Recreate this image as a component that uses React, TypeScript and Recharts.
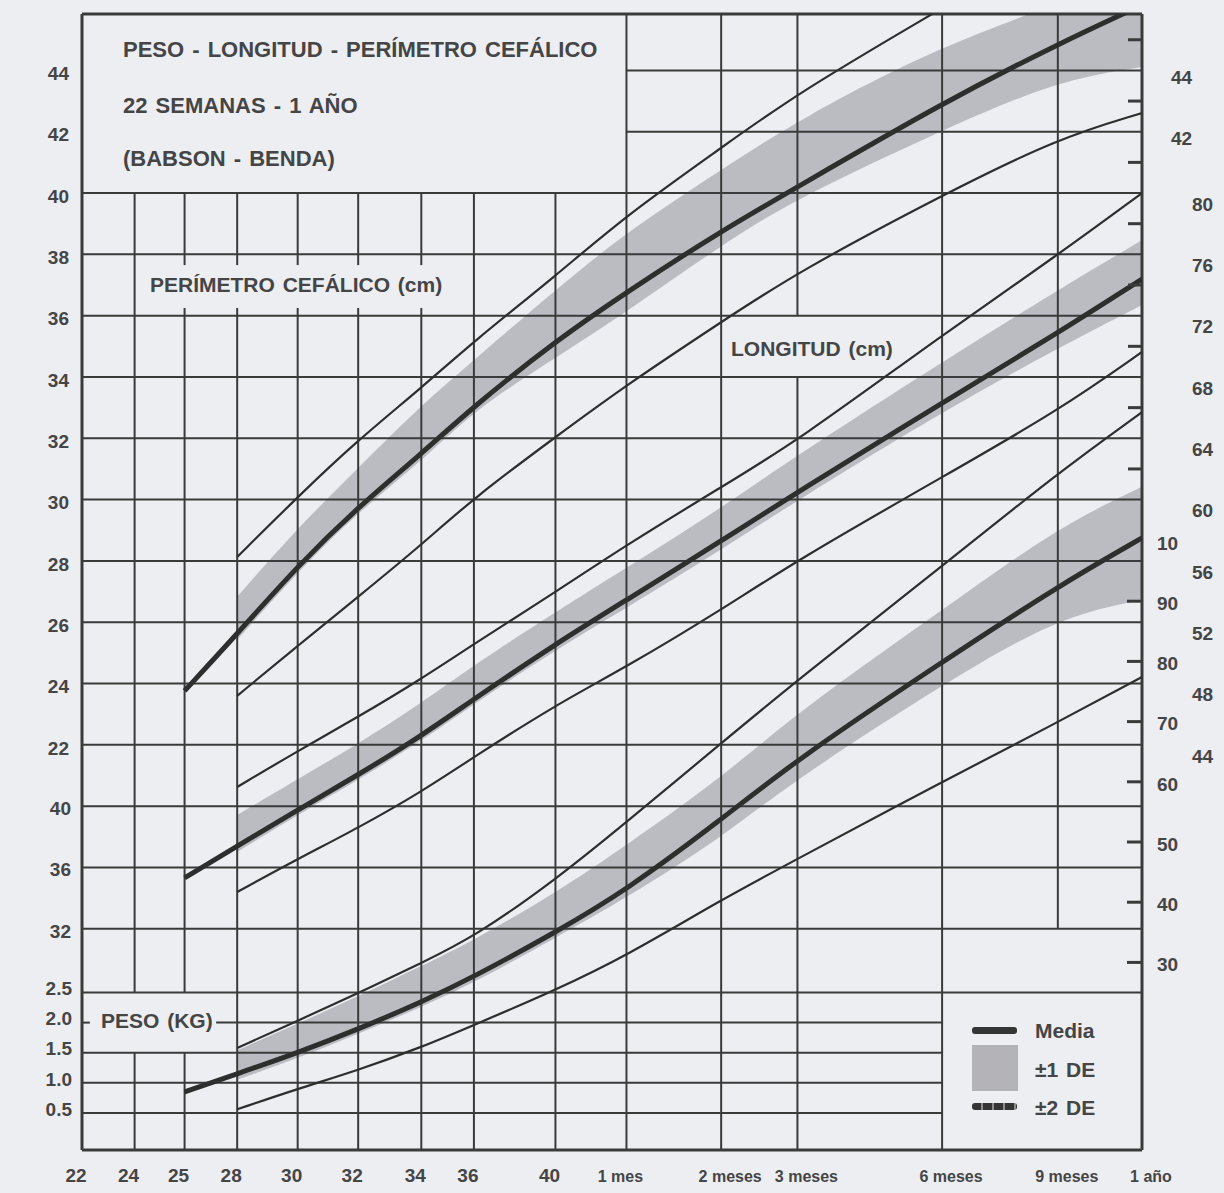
import React from "react";
import {
  ComposedChart,
  Line,
  Area,
  XAxis,
  YAxis,
  ReferenceLine,
} from "recharts";

// printed age axis: label and its place on the (non-uniform) printed scale
const ageLabels = ["22", "24", "25", "28", "30", "32", "34", "36", "40", "1 mes", "2 meses", "3 meses", "6 meses", "9 meses", "1 año"];
const ageAxis = [22, 24, 25.9, 27.9, 30.2, 32.5, 34.9, 36.9, 40, 42.7, 46.3, 49.2, 54.7, 59.1, 62.3];

// perímetro cefálico (cm), one value per printed age
const headMean = [null, null, 23.76, 25.62, 27.84, 29.76, 31.49, 33.05, 35.17, 36.77, 38.76, 40.2, 42.93, 44.86, 46.13];
const headPlus2 = [null, null, null, 28.13, 30.09, 31.95, 33.64, 35.17, 37.29, 39.28, 41.47, 43.26, 46.03, null, null];
const headMinus2 = [null, null, null, 23.6, 25.23, 26.83, 28.52, 30.06, 32.04, 33.74, 35.79, 37.42, 39.93, 41.79, 42.61];
const headBandLow = [null, null, null, 25.43, 27.64, 29.6, 31.23, 32.92, 34.62, 36.12, 38.3, 39.84, 42.05, 43.68, 44.11];
const headBandHigh = [null, null, null, 26.83, 29.08, 31.03, 33.09, 34.55, 36.84, 38.73, 40.75, 42.38, 44.83, 46.13, 47.6];

// longitud (cm)
const lengthMean = [null, null, 35.32, 37.4, 39.75, 42.04, 44.58, 46.99, 50.58, 53.45, 57.3, 60.5, 66.3, 70.87, 74.39];
const lengthPlus2 = [null, null, null, 41.25, 43.6, 45.82, 48.3, 50.58, 53.97, 57.04, 60.82, 63.82, 70.74, 75.96, 80.0];
const lengthMinus2 = [null, null, null, 34.4, 36.56, 38.58, 40.93, 43.21, 46.6, 49.08, 52.8, 56.06, 61.47, 65.78, 69.63];
const lengthBandLow = [null, null, null, 37.01, 39.43, 41.71, 44.25, 46.67, 50.19, 52.93, 56.71, 59.97, 65.71, 69.89, 72.69];
const lengthBandHigh = [null, null, null, 39.43, 41.77, 44.06, 46.73, 49.21, 52.67, 55.54, 59.45, 62.91, 68.98, 73.67, 76.93];

// peso (kg)
const weightMean = [null, null, 0.85, 1.15, 1.5, 1.89, 2.34, 2.76, 3.5, 4.2, 5.37, 6.38, 7.99, 9.25, 10.05];
const weightPlus2 = [null, null, null, 1.58, 2.03, 2.49, 2.99, 3.42, 4.37, 5.33, 6.64, 7.69, 9.58, 11.13, 12.14];
const weightMinus2 = [null, null, null, 0.56, 0.9, 1.21, 1.59, 1.96, 2.54, 3.11, 4.04, 4.72, 6.0, 6.99, 7.74];
const weightBandLow = [null, null, null, 1.05, 1.41, 1.81, 2.26, 2.66, 3.41, 4.07, 5.07, 6.06, 7.61, 8.74, 9.02];
const weightBandHigh = [null, null, null, 1.54, 1.98, 2.44, 2.94, 3.37, 4.15, 4.95, 6.06, 7.16, 8.85, 10.23, 10.9];

// tick labels
const headTicksLeft = [22, 24, 26, 28, 30, 32, 34, 36, 38, 40, 42, 44];
const lengthTicksLeft = [32, 36, 40];
const kgTicksLeft = [0.5, 1.0, 1.5, 2.0, 2.5];
const headTicksRight = [42, 44];
const lengthTicksRight = [44, 48, 52, 56, 60, 64, 68, 72, 76, 80];
const kgTicksRight = [3, 4, 5, 6, 7, 8, 9, 10];
const headMarks = [41, 43, 45];
const lengthMarks = [62, 66, 70, 74, 78];
const kgMarks = [3, 4, 5, 6, 7, 8, 9];

// the three printed scales share one sheet: head cm = length cm / 2
const CM_DOMAIN: [number, number] = [17.57, 91.68];
const HEAD_DOMAIN: [number, number] = [CM_DOMAIN[0] / 2, CM_DOMAIN[1] / 2];
const KG_DOMAIN: [number, number] = [-0.116, 18.754];
const kgToCm = (w: number) =>
  CM_DOMAIN[0] + ((w - KG_DOMAIN[0]) * (CM_DOMAIN[1] - CM_DOMAIN[0])) / (KG_DOMAIN[1] - KG_DOMAIN[0]);

const FONT = '"Liberation Sans", Arial, Helvetica, sans-serif';
const GRID = "#3a3a3a";
const INK = "#2e2e2e";
const BAND = "#b3b3b8";
const TEXT = "#454545";

const rows = ageAxis.map((age, i) => ({
  age,
  headMean: headMean[i],
  headPlus2: headPlus2[i],
  headMinus2: headMinus2[i],
  headBand: headBandLow[i] == null ? null : [headBandLow[i], headBandHigh[i]],
  lengthMean: lengthMean[i],
  lengthPlus2: lengthPlus2[i],
  lengthMinus2: lengthMinus2[i],
  lengthBand: lengthBandLow[i] == null ? null : [lengthBandLow[i], lengthBandHigh[i]],
  weightMean: weightMean[i],
  weightPlus2: weightPlus2[i],
  weightMinus2: weightMinus2[i],
  weightBand: weightBandLow[i] == null ? null : [weightBandLow[i], weightBandHigh[i]],
}));

// sheet ruling (cm units of the length scale); breaks leave room for printed labels
const TOP = CM_DOMAIN[1];
const BOT = CM_DOMAIN[0];
const KG25 = kgToCm(2.5);
const KG15 = kgToCm(1.5);
const verticalRules: [number, number, number][] = [
  [1, 80, KG25], [1, KG15, BOT],
  [2, 80, 75.3], [2, 72.5, KG25], [2, KG15, BOT],
  [3, 80, 75.3], [3, 72.5, BOT],
  [4, 80, 75.3], [4, 72.5, BOT],
  [5, 80, 75.3], [5, 72.5, BOT],
  [6, 80, 75.3], [6, 72.5, BOT],
  [7, 80, BOT], [8, 80, BOT],
  [9, TOP, BOT], [10, TOP, BOT],
  [11, TOP, 72], [11, 68, BOT],
  [12, TOP, BOT], [13, TOP, 32],
];
const cmRules: [number, number, number][] = [
  [88, 9, 14], [84, 9, 14],
  [80, 0, 14], [76, 0, 14], [72, 0, 14], [68, 0, 14], [64, 0, 14], [60, 0, 14],
  [56, 0, 14], [52, 0, 14], [48, 0, 14], [44, 0, 14], [40, 0, 14], [36, 0, 14], [32, 0, 14],
];
const kgRules: [number, number, number][] = [
  [2.5, 22, 62.3], [2.0, 22, 22.3], [2.0, 27.1, 54.7], [1.5, 22, 54.7], [1.0, 22, 54.7], [0.5, 22, 54.7],
];

const TICK = { fill: TEXT, fontSize: 19, fontWeight: 700, fontFamily: FONT };

const AgeTick = (props: any) => {
  const { x, y, payload } = props;
  const i = ageAxis.indexOf(payload.value);
  const month = i >= 9;
  const shift = !month ? -6 : i === 9 ? -6 : 9;
  return (
    <text
      x={x + shift}
      y={y + 32}
      textAnchor="middle"
      fontSize={month ? 16 : 19}
      fontWeight={700}
      fill={TEXT}
      fontFamily={FONT}
    >
      {ageLabels[i]}
    </text>
  );
};

const Note = ({ left, top, size = 21, children }: any) => (
  <div
    style={{
      position: "absolute",
      left,
      top,
      fontSize: size,
      lineHeight: `${size}px`,
      fontWeight: 700,
      color: TEXT,
      fontFamily: FONT,
      whiteSpace: "nowrap",
      wordSpacing: 2,
    }}
  >
    {children}
  </div>
);

const labelAxis = {
  width: 1,
  allowDataOverflow: true,
  interval: 0,
  axisLine: false,
  tickLine: false,
  tickSize: 0,
} as const;

const markAxis = {
  orientation: "right",
  mirror: true,
  width: 1,
  allowDataOverflow: true,
  interval: 0,
  axisLine: false,
  tickSize: 14,
  tickLine: { stroke: GRID, strokeWidth: 3 },
  tickFormatter: () => "",
} as const;

// the printed curves are drawn smooth; a B-spline through the read values evens out reading noise
const CURVE = "basis" as const;

const App: React.FC = () => {
  return (
    <div style={{ position: "absolute", left: 0, top: 0, width: 1224, height: 1193, background: "#eceef2" }}>
      <ComposedChart width={1224} height={1193} data={rows} margin={{ top: 14, right: 79, bottom: 3, left: 79 }}>
        <XAxis
          dataKey="age"
          type="number"
          domain={[22, 62.3]}
          ticks={ageAxis}
          interval={0}
          allowDataOverflow
          axisLine={false}
          tickLine={false}
          tickSize={0}
          tickMargin={0}
          height={40}
          tick={AgeTick}
        />
        <YAxis yAxisId="head" orientation="left" domain={HEAD_DOMAIN} ticks={headTicksLeft} tickMargin={12} tick={{ ...TICK, dy: 3 }} {...labelAxis} />
        <YAxis yAxisId="cm" orientation="left" domain={CM_DOMAIN} ticks={lengthTicksLeft} tickMargin={11} tick={{ ...TICK, dy: 2 }} {...labelAxis} />
        <YAxis yAxisId="kg" orientation="left" domain={KG_DOMAIN} ticks={kgTicksLeft} tickMargin={8} tickFormatter={(v: number) => v.toFixed(1)} tick={{ ...TICK, dy: -4 }} {...labelAxis} />
        <YAxis yAxisId="headR" orientation="right" domain={HEAD_DOMAIN} ticks={headTicksRight} tickMargin={28} tick={{ ...TICK, dy: 7 }} {...labelAxis} />
        <YAxis yAxisId="cmR" orientation="right" domain={CM_DOMAIN} ticks={lengthTicksRight} tickMargin={50} tick={{ ...TICK, dy: 11 }} {...labelAxis} />
        <YAxis yAxisId="kgR" orientation="right" domain={KG_DOMAIN} ticks={kgTicksRight} tickMargin={13} tickFormatter={(v: number) => (v === 10 ? "10" : String(v * 10))} tick={{ ...TICK, dy: 2 }} {...labelAxis} />
        <YAxis yAxisId="cmMarks" domain={CM_DOMAIN} ticks={[...lengthMarks, ...headMarks.map((h) => h * 2)]} {...markAxis} />
        <YAxis yAxisId="kgMarks" domain={KG_DOMAIN} ticks={kgMarks} {...markAxis} />

        {verticalRules.map(([col, from, to], k) => (
          <ReferenceLine key={`v${k}`} yAxisId="cm" ifOverflow="visible" stroke={GRID} strokeWidth={2} segment={[{ x: ageAxis[col], y: from }, { x: ageAxis[col], y: to }]} />
        ))}
        {cmRules.map(([y, c0, c1], k) => (
          <ReferenceLine key={`h${k}`} yAxisId="cm" ifOverflow="visible" stroke={GRID} strokeWidth={2} segment={[{ x: ageAxis[c0], y }, { x: ageAxis[c1], y }]} />
        ))}
        {kgRules.map(([y, x0, x1], k) => (
          <ReferenceLine key={`k${k}`} yAxisId="kg" ifOverflow="visible" stroke={GRID} strokeWidth={2} segment={[{ x: x0, y }, { x: x1, y }]} />
        ))}
        <ReferenceLine yAxisId="cm" x={22} ifOverflow="visible" stroke={GRID} strokeWidth={3} />
        <ReferenceLine yAxisId="cm" x={62.3} ifOverflow="visible" stroke={GRID} strokeWidth={3} />
        <ReferenceLine yAxisId="cm" y={TOP} ifOverflow="visible" stroke={GRID} strokeWidth={3} />
        <ReferenceLine yAxisId="cm" y={BOT} ifOverflow="visible" stroke={GRID} strokeWidth={3} />

        <Area yAxisId="head" dataKey="headBand" type={CURVE} stroke="none" fill={BAND} fillOpacity={0.85} isAnimationActive={false} activeDot={false} />
        <Area yAxisId="cm" dataKey="lengthBand" type={CURVE} stroke="none" fill={BAND} fillOpacity={0.85} isAnimationActive={false} activeDot={false} />
        <Area yAxisId="kg" dataKey="weightBand" type={CURVE} stroke="none" fill={BAND} fillOpacity={0.85} isAnimationActive={false} activeDot={false} />

        <Line yAxisId="head" dataKey="headPlus2" type={CURVE} stroke={INK} strokeWidth={2.2} dot={false} activeDot={false} isAnimationActive={false} />
        <Line yAxisId="head" dataKey="headMinus2" type={CURVE} stroke={INK} strokeWidth={2.2} dot={false} activeDot={false} isAnimationActive={false} />
        <Line yAxisId="head" dataKey="headMean" type={CURVE} stroke={INK} strokeWidth={5} dot={false} activeDot={false} isAnimationActive={false} />
        <Line yAxisId="cm" dataKey="lengthPlus2" type={CURVE} stroke={INK} strokeWidth={2.2} dot={false} activeDot={false} isAnimationActive={false} />
        <Line yAxisId="cm" dataKey="lengthMinus2" type={CURVE} stroke={INK} strokeWidth={2.2} dot={false} activeDot={false} isAnimationActive={false} />
        <Line yAxisId="cm" dataKey="lengthMean" type={CURVE} stroke={INK} strokeWidth={5} dot={false} activeDot={false} isAnimationActive={false} />
        <Line yAxisId="kg" dataKey="weightPlus2" type={CURVE} stroke={INK} strokeWidth={2.2} dot={false} activeDot={false} isAnimationActive={false} />
        <Line yAxisId="kg" dataKey="weightMinus2" type={CURVE} stroke={INK} strokeWidth={2.2} dot={false} activeDot={false} isAnimationActive={false} />
        <Line yAxisId="kg" dataKey="weightMean" type={CURVE} stroke={INK} strokeWidth={5} dot={false} activeDot={false} isAnimationActive={false} />
      </ComposedChart>

      <Note left={123} top={39} size={22}>PESO - LONGITUD - PERÍMETRO CEFÁLICO</Note>
      <Note left={123} top={95} size={22}>22 SEMANAS - 1 AÑO</Note>
      <Note left={123} top={148} size={22}>(BABSON - BENDA)</Note>
      <Note left={150} top={274}>PERÍMETRO CEFÁLICO (cm)</Note>
      <Note left={731} top={338}>LONGITUD (cm)</Note>
      <Note left={101} top={1010}>PESO (KG)</Note>

      <div style={{ position: "absolute", left: 972, top: 1027, width: 45, height: 7, borderRadius: 3, background: "#353535" }} />
      <div style={{ position: "absolute", left: 972, top: 1045, width: 46, height: 46, background: BAND }} />
      <div
        style={{
          position: "absolute",
          left: 972,
          top: 1103,
          width: 45,
          height: 7,
          borderRadius: 3,
          background: "repeating-linear-gradient(90deg, #353535 0 9px, #8c8c8c 9px 11px)",
        }}
      />
      <Note left={1035} top={1020}>Media</Note>
      <Note left={1035} top={1059}>±1 DE</Note>
      <Note left={1035} top={1097}>±2 DE</Note>
    </div>
  );
};

export default App;
